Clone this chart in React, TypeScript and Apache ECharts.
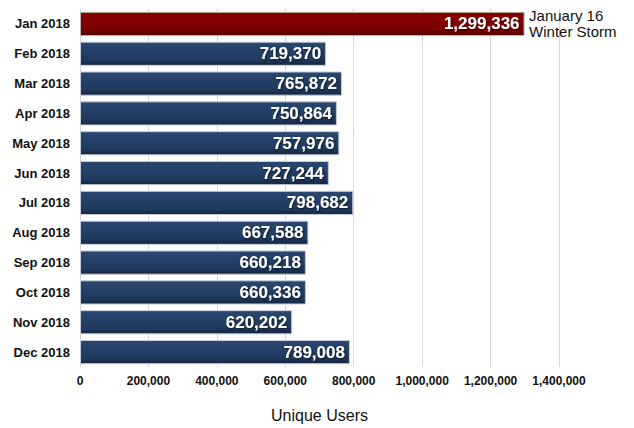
import React, { useEffect, useRef } from "react";
import * as echarts from "echarts";

const categories = [
  "Jan 2018", "Feb 2018", "Mar 2018", "Apr 2018", "May 2018", "Jun 2018",
  "Jul 2018", "Aug 2018", "Sep 2018", "Oct 2018", "Nov 2018", "Dec 2018",
];
const users = [
  1299336, 719370, 765872, 750864, 757976, 727244,
  798682, 667588, 660218, 660336, 620202, 789008,
];
const highlightIndex = 0;
const annotationText = "January 16\nWinter Storm";
const axisTitle = "Unique Users";

const FONT = "'Liberation Sans Narrow', 'Arial Narrow', 'Liberation Sans', Arial, sans-serif";

const navyFill = new echarts.graphic.LinearGradient(0, 0, 0, 1, [
  { offset: 0, color: "#2a4770" },
  { offset: 0.75, color: "#203a5e" },
  { offset: 1, color: "#14253f" },
]);
const redFill = new echarts.graphic.LinearGradient(0, 0, 0, 1, [
  { offset: 0, color: "#8a0000" },
  { offset: 0.75, color: "#7a0000" },
  { offset: 1, color: "#520000" },
]);

export default function App() {
  const ref = useRef<HTMLDivElement>(null);
  useEffect(() => {
    if (!ref.current) return;
    const chart = echarts.init(ref.current, undefined, { renderer: "svg" });
    const fmt = (v: number) => v.toLocaleString("en-US");
    chart.setOption({
      animation: false,
      backgroundColor: "#ffffff",
      grid: { left: 80, right: 75, top: 9, bottom: 47, containLabel: false },
      xAxis: {
        type: "value",
        min: 0,
        max: 1400000,
        interval: 200000,
        name: axisTitle,
        nameLocation: "middle",
        nameGap: 40,
        nameTextStyle: { fontFamily: FONT, fontSize: 16, color: "#111" },
        axisLine: { show: false },
        axisTick: { show: false },
        axisLabel: {
          formatter: (v: number) => fmt(v),
          fontFamily: FONT,
          fontSize: 12,
          fontWeight: "bold",
          color: "#111",
          margin: 8,
        },
        splitLine: { show: true, lineStyle: { color: "#d9d9d9", width: 1 } },
      },
      yAxis: {
        type: "category",
        data: categories,
        inverse: true,
        axisLine: { show: false },
        axisTick: { show: false },
        axisLabel: {
          fontFamily: FONT,
          fontSize: 13,
          fontWeight: "bold",
          color: "#111",
          margin: 10,
        },
      },
      series: [
        {
          type: "bar",
          data: users.map((v, i) => ({
            value: v,
            itemStyle: {
              color: i === highlightIndex ? redFill : navyFill,
              borderColor: i === highlightIndex ? "#b5b5b5" : "#c3ccd8",
              borderWidth: 1,
            },
          })),
          barCategoryGap: "19%",
          label: {
            show: true,
            position: "insideRight",
            distance: 5,
            formatter: (p: any) => fmt(p.value),
            fontFamily: FONT,
            fontSize: 17,
            fontWeight: "bold",
            color: "#ffffff",
            textShadowColor: "rgba(0,0,0,0.6)",
            textShadowBlur: 2,
            textShadowOffsetX: 1,
            textShadowOffsetY: 1,
          },
          markPoint: {
            symbol: "rect",
            symbolSize: 1,
            itemStyle: { color: "transparent" },
            data: [
              {
                coord: [users[highlightIndex], categories[highlightIndex]],
                label: {
                  show: true,
                  position: "right",
                  distance: 4,
                  formatter: annotationText,
                  fontFamily: FONT,
                  fontSize: 15,
                  lineHeight: 16,
                  color: "#111",
                  align: "left",
                },
              },
            ],
          },
        },
      ],
    });
    return () => chart.dispose();
  }, []);
  return (
    <div
      ref={ref}
      style={{ position: "fixed", left: 0, top: 0, width: 634, height: 428 }}
    />
  );
}
